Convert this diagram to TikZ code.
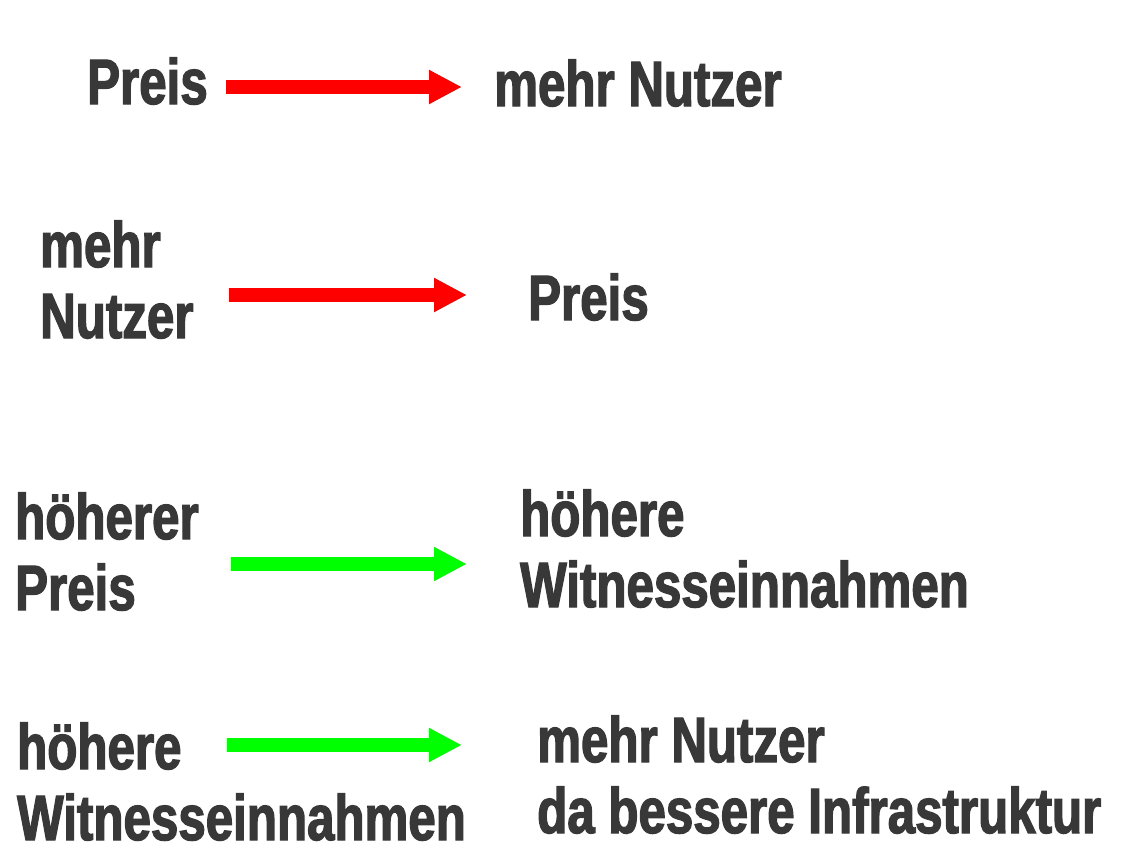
\documentclass[tikz,border=0pt]{standalone}
\usepackage{fontspec}
\setmainfont{Liberation Sans}[BoldFeatures={FakeStretch=0.77,FakeBold=2}]
\usetikzlibrary{arrows.meta}

\definecolor{txtgray}{HTML}{383838}
\definecolor{arrred}{HTML}{FF0000}
\definecolor{arrgreen}{HTML}{00FF00}

\tikzset{
    label/.style={anchor=base west, inner sep=0pt, align=left, text=txtgray,
        font=\bfseries\fontsize{64}{71}\selectfont},
    bigarrow/.style={line width=14pt, -{Triangle[length=33pt,width=32pt]}}
}

\begin{document}
\begin{tikzpicture}[x=1pt,y=-1pt]
    % canvas
    \fill[white] (0,0) rectangle (1127,865);

    % row 1
    \node (preisA) [label] at (87,104) {Preis};
    \node (nutzerA) [label] at (494,106) {mehr Nutzer};
    \coordinate (a1s) at (226,87);
    \coordinate (a1e) at (462,87);
    \draw [bigarrow, arrred] (a1s) -- (a1e);

    % row 2 (base = last line)
    \node (nutzerB) [label] at (40,338) {mehr\\Nutzer};
    \node (preisB) [label] at (528,320) {Preis};
    \coordinate (a2s) at (229,295);
    \coordinate (a2e) at (467,295);
    \draw [bigarrow, arrred] (a2s) -- (a2e);

    % row 3
    \node (preisC) [label] at (15,610) {höherer\\Preis};
    \node (witnessC) [label] at (520,607) {höhere\\Witnesseinnahmen};
    \coordinate (a3s) at (231,564);
    \coordinate (a3e) at (467,564);
    \draw [bigarrow, arrgreen] (a3s) -- (a3e);

    % row 4
    \node (witnessD) [label] at (17,840) {höhere\\Witnesseinnahmen};
    \node (nutzerD) [label] at (537,833) {mehr Nutzer\\da bessere Infrastruktur};
    \coordinate (a4s) at (227,745);
    \coordinate (a4e) at (462,745);
    \draw [bigarrow, arrgreen] (a4s) -- (a4e);
\end{tikzpicture}
\end{document}
